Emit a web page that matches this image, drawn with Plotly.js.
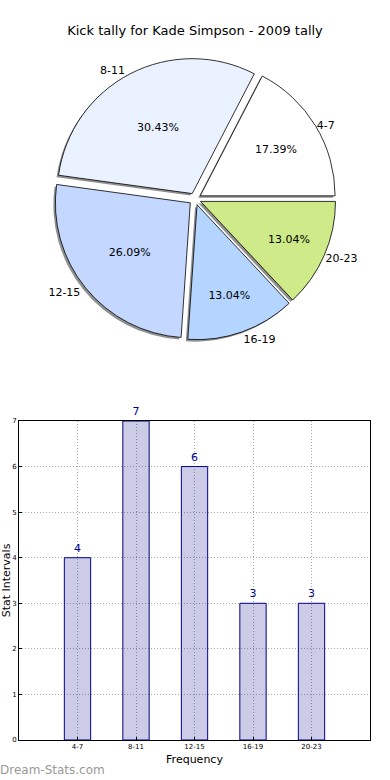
<!DOCTYPE html>
<html>
<head>
<meta charset="utf-8">
<script src="https://cdn.plot.ly/plotly-3.0.1.min.js"></script>
<style>html,body{margin:0;padding:0;background:#fff;}#chart{width:390px;height:780px;}</style>
</head>
<body>
<div id="chart"></div>
<script>
// Data
const categories = ["4-7", "8-11", "12-15", "16-19", "20-23"];
const counts = [4, 7, 6, 3, 3];
const sliceColors = ["#FFFFFF", "#EAF1FF", "#C4D8FF", "#B4D5FF", "#CEEA89"];
const yTicks = [0, 1, 2, 3, 4, 5, 6, 7];

const W = 390, H = 780;
const FONT = "DejaVu Sans, sans-serif";
const cx = 195, cy = 199, half = 141;
function dom(dx, dy) {
  return {
    x: [(cx - half + dx) / W, (cx + half + dx) / W],
    y: [(H - (cy + half + dy)) / H, (H - (cy - half + dy)) / H]
  };
}
const pull = 0.045;
const total = counts.reduce((a, b) => a + b, 0);
// first slice should start at 3 o'clock and run counterclockwise
const rot = 90 - 360 * counts[0] / total;

const shadow = {
  type: "pie", values: counts, labels: categories, sort: false,
  direction: "counterclockwise", rotation: rot, pull: pull,
  domain: dom(-2, 2),
  marker: {colors: categories.map(() => "rgba(70,70,70,0.6)"), line: {width: 0}},
  textinfo: "label", textposition: "outside",
  outsidetextfont: {family: FONT, size: 11, color: "#000"},
  showlegend: false, hoverinfo: "skip"
};
const pie = {
  type: "pie", values: counts, labels: categories, sort: false,
  direction: "counterclockwise", rotation: rot, pull: pull,
  domain: dom(0, 0),
  marker: {colors: sliceColors, line: {color: "#000", width: 0.8}},
  texttemplate: "%{percent:.2%}", textposition: "inside",
  insidetextorientation: "horizontal",
  insidetextfont: {family: FONT, size: 11, color: "#000"},
  showlegend: false
};
const bars = {
  type: "bar", x: categories, y: counts, xaxis: "x", yaxis: "y",
  width: 0.45,
  marker: {color: "rgba(0,0,128,0.2)", line: {color: "#00008B", width: 1}},
  text: counts.map(String), textposition: "outside", cliponaxis: false,
  textfont: {family: FONT, size: 11, color: "#00008B"},
  showlegend: false
};

const gridStyle = {showgrid: true, gridcolor: "#aaaaaa", griddash: "1px,2px", gridwidth: 1};

const layout = {
  width: W, height: H,
  margin: {l: 0, r: 0, t: 0, b: 0},
  paper_bgcolor: "#fff", plot_bgcolor: "#fff",
  font: {family: FONT, color: "#000"},
  title: {text: "Kick tally for Kade Simpson - 2009 tally", font: {family: FONT, size: 13, color: "#000"},
          x: 0.5, xanchor: "center", y: (H - 30) / H, yanchor: "middle", yref: "paper"},
  xaxis: Object.assign({
    domain: [19 / W, 370 / W], anchor: "y",
    type: "category", range: [-1, 5],
    showline: true, linecolor: "#000", linewidth: 1, mirror: true,
    ticks: "inside", ticklen: 3, tickcolor: "#000",
    tickfont: {family: FONT, size: 7, color: "#000"},
    title: {text: "Frequency", font: {family: FONT, size: 11, color: "#000"}, standoff: 4},
    zeroline: false, fixedrange: true
  }, gridStyle),
  yaxis: Object.assign({
    domain: [(H - 740) / H, (H - 421) / H], anchor: "x",
    range: [0, 7], tickvals: yTicks, ticktext: yTicks.map(String),
    showline: true, linecolor: "#000", linewidth: 1, mirror: true,
    ticks: "inside", ticklen: 3, tickcolor: "#000",
    tickfont: {family: FONT, size: 7, color: "#000"},
    title: {text: "Stat Intervals", font: {family: FONT, size: 11, color: "#000"}, standoff: 0},
    zeroline: false, fixedrange: true
  }, gridStyle),
  annotations: [{
    text: "Dream-Stats.com", xref: "paper", yref: "paper",
    x: 0, xanchor: "left", xshift: -2, y: (H - 770) / H, yanchor: "middle", showarrow: false,
    font: {family: FONT, size: 12, color: "#999999"}
  }]
};

Plotly.newPlot("chart", [shadow, pie, bars], layout, {displayModeBar: false, staticPlot: true});
</script>
</body>
</html>
